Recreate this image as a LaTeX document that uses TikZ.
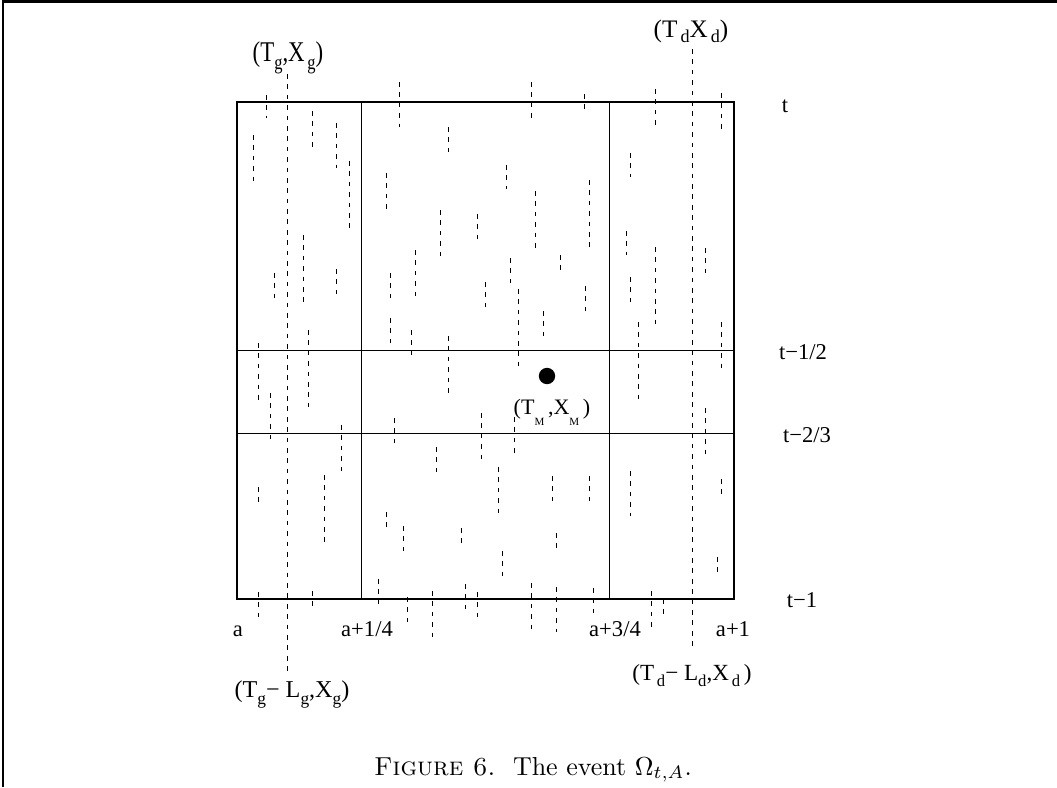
\documentclass[tikz,border=0pt]{standalone}
\usepackage{fontspec}
\newfontfamily\lbl{Liberation Serif}
\newcommand\lsb[1]{\raisebox{-0.3em}{\scalebox{0.72}{#1}}}
\newcommand\msb[1]{\raisebox{-0.5em}{\scalebox{0.5}{#1}}}
\tikzset{
  dsh/.style={line width=0.33pt, dash pattern=on 1.8pt off 2.2pt},
  gridline/.style={line width=0.45pt},
  framel/.style={line width=1.15pt},
  lab/.style={font=\lbl\fontsize{8.7}{10}\selectfont, inner sep=0pt, anchor=base},
}
\begin{document}
\begin{tikzpicture}[x=0.385pt,y=-0.385pt]
\useasboundingbox (0,0) rectangle (1057,787);
% frame (top and left)
\draw[framel] (3,787) -- (3,1.5) -- (1057,1.5);
% main square and grid
\draw[gridline] (237,102) rectangle (734,599);
\draw[gridline] (361.25,102) -- (361.25,599);
\draw[gridline] (609.75,102) -- (609.75,599);
\draw[gridline] (237,350.5) -- (734,350.5);
\draw[gridline] (237,433.3) -- (734,433.3);
% dashed segments
\foreach \x/\a/\b in {
 266/95/118, 312/111/147, 336/123/168, 253/135/185, 349/161/230, 303/235/305,
 274/273/302, 336/269/297, 258/343/400, 308/330/408, 270/393/442, 341/425/475,
 258/487/503, 324/475/546, 258/592/620, 312/591/607,
 399/82/127, 448/127/152, 386/173/210, 506/165/189, 531/82/118, 584/94/111,
 535/191/252, 589/180/252, 440/210/260, 477/214/239, 415/250/297, 560/255/273,
 510/258/285, 390/273/302, 390/318/343, 411/330/355, 448/336/397, 485/282/310,
 518/289/368, 543/311/338, 585/286/313, 394/418/446, 436/447/475, 481/413/463,
 514/417/454, 498/467/517, 386/512/529, 403/526/553, 461/528/546, 502/551/578,
 552/476/503, 589/476/503, 556/533/550, 378/579/607, 407/597/623, 432/591/640,
 465/584/612, 477/592/620, 531/583/632, 556/587/632, 593/588/615,
 655/89/127, 721/93/131, 630/153/177, 626/231/255, 655/247/330, 705/248/277,
 630/277/305, 638/322/400, 721/322/372, 705/408/458, 630/471/516, 721/479/496,
 717/557/574, 651/591/628, 663/599/616,
 287/74/674, 692/49/648}
 \draw[dsh] (\x,\a) -- (\x,\b);
% the point
\node[circle, fill=black, minimum size=6.3pt, inner sep=0pt] (dot) at (547,376) {};
% labels
\node[lab] (t0) at (785,112) {t};
\node[lab] (t12) at (803,359) {t−1/2};
\node[lab] (t23) at (807,442) {t−2/3};
\node[lab] (t1) at (802,607) {t−1};
\node[lab] (a0) at (238,636) {a};
\node[lab] (a14) at (367,636) {a+1/4};
\node[lab] (a34) at (615,636) {a+3/4};
\node[lab] (a1) at (733,636) {a+1};
\node[lab, font=\lbl\fontsize{11}{12}\selectfont] (tg) at (288,61) {\scalebox{0.8}[1]{(T\lsb{g},X\lsb{\,g})}};
\node[lab, font=\lbl\fontsize{9.7}{11}\selectfont] (td) at (691,37) {(T\raisebox{-0.2em}{\scalebox{0.72}{\,d}}X\raisebox{-0.2em}{\scalebox{0.72}{\,d}})};
\node[lab, font=\lbl\fontsize{9.3}{11}\selectfont] (tgl) at (292,697) {(T\lsb{g}− L\lsb{g},X\lsb{g})};
\node[lab, font=\lbl\fontsize{8.9}{10}\selectfont] (tdl) at (692,680) {(T\lsb{\,d}− L\lsb{d},X\lsb{\,d}\,)};
\node[lab, font=\lbl\fontsize{8.5}{10}\selectfont] (tm) at (552,414) {(T\msb{M}\,,X\msb{M}\,)};
% caption
\node[anchor=base, inner sep=0pt, font=\fontsize{10}{12}\selectfont] (cap) at (533,775) {\textsc{Figure 6.}\ \ The event $\Omega_{t,A}$.};
\end{tikzpicture}
\end{document}
